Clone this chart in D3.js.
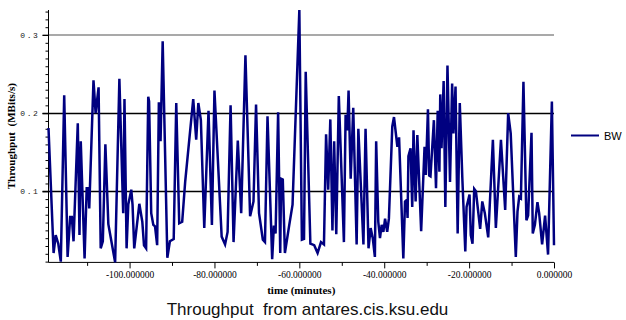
<!DOCTYPE html>
<html><head><meta charset="utf-8">
<script src="https://cdn.jsdelivr.net/npm/d3@7"></script>
<style>body{margin:0;background:#fff}svg{display:block}</style>
</head><body><svg id="c" width="626" height="320"></svg>
<script>
// time in minutes (relative to now)
const times = [
-119.1,-117.9,-117.4,-116.8,-116.2,-115.4,-114.6,-114.0,-113.6,-113.2,-112.2,-111.8,-111.5,-110.6,-110.1,-109.7,-109.5,-108.5,-108.0,-107.3,
-106.8,-106.3,-105.7,-105.0,-103.4,-102.4,-101.5,-101.2,-100.7,-100.3,-99.6,-99.3,-98.9,-97.7,-97.0,-96.6,-96.1,-95.6,-95.4,-94.9,
-94.4,-94.0,-93.5,-93.1,-92.7,-92.2,-91.1,-90.5,-89.6,-89.0,-88.3,-87.6,-86.9,-85.0,-84.3,-83.8,-83.2,-82.4,-81.4,-80.6,
-80.0,-78.3,-77.5,-76.9,-76.2,-75.5,-74.5,-73.7,-72.7,-71.6,-70.8,-70.2,-69.5,-68.6,-68.1,-67.5,-66.4,-66.0,-65.6,-65.0,
-64.5,-64.3,-63.9,-63.4,-62.4,-61.6,-60.0,-59.4,-58.9,-58.5,-57.4,-56.5,-55.7,-54.9,-54.2,-53.7,-53.2,-52.7,-52.2,-51.8,
-51.3,-50.7,-49.5,-49.1,-48.7,-48.4,-47.9,-47.3,-46.5,-46.1,-44.9,-44.4,-43.7,-43.2,-42.7,-42.2,-41.9,-41.4,-41.0,-40.6,
-40.2,-39.8,-39.3,-38.9,-38.1,-37.7,-36.9,-36.5,-35.5,-35.1,-34.7,-34.5,-34.3,-33.8,-33.4,-33.1,-32.6,-32.2,-31.3,-30.5,
-30.2,-29.7,-29.4,-29.1,-28.3,-27.8,-27.4,-27.0,-26.8,-26.5,-26.0,-25.6,-25.1,-24.5,-24.0,-23.7,-23.2,-22.7,-22.2,-21.6,
-20.9,-20.6,-19.9,-19.6,-19.2,-18.8,-18.4,-17.4,-16.9,-16.3,-15.5,-14.4,-13.7,-12.5,-11.5,-10.8,-10.2,-9.0,-8.6,-8.2,
-7.8,-7.2,-6.5,-6.1,-5.3,-5.0,-4.5,-3.9,-3.5,-2.8,-2.1,-1.4,-0.5,0.0
];
// throughput in MBits/s
const bw = [
0.181,0.021,0.044,0.033,0.010,0.223,0.016,0.067,0.067,0.036,0.187,0.044,0.164,0.014,0.104,0.104,0.078,0.242,0.200,0.233,
0.027,0.036,0.160,0.058,0.009,0.244,0.072,0.218,0.027,0.083,0.102,0.083,0.027,0.084,0.061,0.031,0.027,0.221,0.215,0.072,
0.057,0.055,0.031,0.214,0.164,0.292,0.015,0.036,0.039,0.213,0.059,0.061,0.112,0.218,0.166,0.213,0.191,0.053,0.203,0.057,
0.229,0.042,0.032,0.048,0.210,0.035,0.165,0.072,0.274,0.068,0.087,0.211,0.072,0.038,0.035,0.196,0.013,0.056,0.046,0.201,
0.021,0.116,0.115,0.021,0.056,0.083,0.332,0.038,0.039,0.253,0.033,0.031,0.021,0.035,0.032,0.173,0.102,0.192,0.050,0.164,
0.045,0.222,0.035,0.198,0.178,0.229,0.116,0.207,0.032,0.180,0.032,0.180,0.027,0.053,0.040,0.016,0.164,0.061,0.040,0.057,
0.048,0.065,0.048,0.065,0.183,0.195,0.157,0.169,0.014,0.087,0.089,0.066,0.145,0.155,0.080,0.178,0.087,0.172,0.049,0.157,
0.121,0.205,0.120,0.119,0.191,0.104,0.203,0.125,0.224,0.155,0.241,0.080,0.261,0.112,0.238,0.174,0.234,0.046,0.213,0.117,
0.023,0.080,0.096,0.044,0.033,0.103,0.100,0.052,0.087,0.072,0.041,0.166,0.053,0.166,0.076,0.200,0.174,0.016,0.074,0.093,
0.091,0.240,0.063,0.069,0.175,0.046,0.057,0.086,0.072,0.032,0.069,0.019,0.215,0.031
];
const seriesName = "BW";
const xMinorTicks = [-110,-100,-90,-80,-70,-60,-50,-40,-30,-20,-10,0];
const xLabelTicks = [-100,-80,-60,-40,-20,0];
const yMinorTicks = d3.range(1,34).map(i => i/100);
const yLabelTicks = [0.1,0.2,0.3];
const chartTitle = "Throughput  from antares.cis.ksu.edu";
const xAxisTitle = "time (minutes)";
const yAxisTitle = "Throughput  (MBits/s)";

const data = times.map((t,i) => ({t, v: bw[i]}));
const svg = d3.select("#c");
const L = 48.5, R = 554, T = 10, B = 262.4;
const x = d3.scaleLinear().domain(d3.extent(times)).range([L, R]);
const y = d3.scaleLinear().domain(d3.extent(bw)).range([B, T]);

const isMajorY = v => yLabelTicks.some(m => Math.abs(m - v) < 1e-9);
const isMajorX = v => xLabelTicks.includes(v);

// gridlines at labelled y ticks
svg.append("g").selectAll("line").data(yLabelTicks).join("line")
  .attr("x1", L - 6).attr("x2", R)
  .attr("y1", d => d > 0.25 ? y(d) : Math.round(y(d)) + 0.5)
  .attr("y2", d => d > 0.25 ? y(d) : Math.round(y(d)) + 0.5)
  .attr("stroke", d => d > 0.25 ? "#555" : "#000")
  .attr("stroke-width", d => d > 0.25 ? 1.2 : 1.4);

// y axis
const yTicksInDomain = yMinorTicks.filter(v => v >= y.domain()[0] && v <= y.domain()[1]);
const yAxis = svg.append("g").attr("transform", `translate(${L},0)`)
  .call(d3.axisLeft(y).tickValues(yTicksInDomain)
    .tickFormat(d => isMajorY(d) ? d.toFixed(1) : "").tickSizeOuter(0));
yAxis.select(".domain").attr("stroke", "#000");
yAxis.selectAll(".tick line").attr("x2", d => isMajorY(d) ? -6 : -3).attr("stroke", "#000");
yAxis.selectAll(".tick text")
  .attr("x", -9)
  .style("font-family", "'Liberation Mono', 'DejaVu Sans Mono', monospace")
  .style("font-size", "8px").style("letter-spacing", "1.6px")
  .attr("fill", "#222");
yAxis.select(".domain").attr("d", `M0,${B}V${T}`);

// x axis
const xAxis = svg.append("g").attr("transform", `translate(0,${B})`)
  .call(d3.axisBottom(x).tickValues(xMinorTicks)
    .tickFormat(d => isMajorX(d) ? d.toFixed(6) : "").tickSizeOuter(0));
xAxis.select(".domain").attr("d", `M${L},0H${R}`).attr("stroke", "#000");
xAxis.selectAll(".tick line").attr("y2", d => isMajorX(d) ? 6 : 3.5).attr("stroke", "#000");
xAxis.selectAll(".tick text")
  .attr("y", 9).attr("dy", "0.71em")
  .style("font-family", "'Liberation Serif', 'Times New Roman', serif")
  .style("font-size", "9.5px").attr("fill", "#000");

// series line
svg.append("path").datum(data)
  .attr("fill", "none").attr("stroke", "#000080").attr("stroke-width", 2.5)
  .attr("d", d3.line().x(d => x(d.t)).y(d => y(d.v)));

// axis titles
svg.append("text").attr("x", (L + R) / 2).attr("y", 293.5)
  .attr("text-anchor", "middle")
  .style("font-family", "'Liberation Serif', 'Times New Roman', serif")
  .style("font-weight", "bold").style("font-size", "11px")
  .text(xAxisTitle);
svg.append("text").attr("transform", `translate(15,${(T + B) / 2}) rotate(-90)`)
  .attr("text-anchor", "middle")
  .style("font-family", "'Liberation Serif', 'Times New Roman', serif")
  .style("font-weight", "bold").style("font-size", "11px")
  .style("white-space", "pre")
  .text(yAxisTitle);

// chart title
svg.append("text").attr("x", 307.5).attr("y", 314.5)
  .attr("text-anchor", "middle")
  .style("font-family", "'Liberation Sans', Arial, sans-serif")
  .style("font-size", "17px").style("white-space", "pre").attr("fill", "#111")
  .text(chartTitle);

// legend
const lg = svg.append("g");
lg.append("line").attr("x1", 571).attr("x2", 599).attr("y1", 135.5).attr("y2", 135.5)
  .attr("stroke", "#000080").attr("stroke-width", 2);
lg.append("text").attr("x", 604).attr("y", 139.5)
  .style("font-family", "'Liberation Sans', Arial, sans-serif")
  .style("font-size", "11px").attr("fill", "#000")
  .text(seriesName);
</script></body></html>
